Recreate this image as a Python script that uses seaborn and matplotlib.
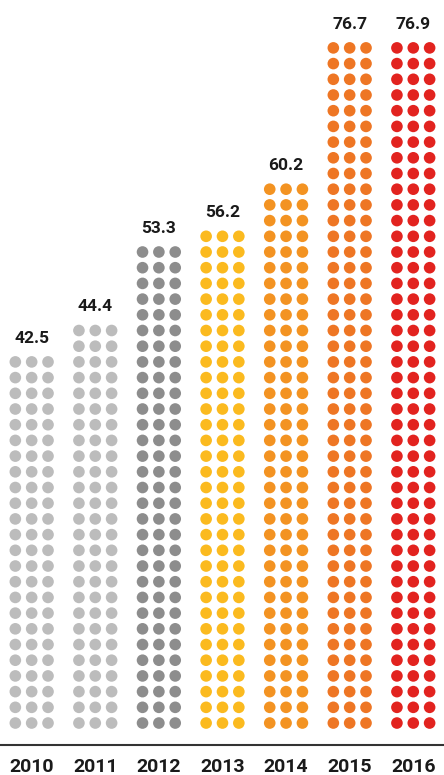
import pandas as pd
import seaborn as sns
import matplotlib
import matplotlib.pyplot as plt

matplotlib.use('Agg')

# values
years = ['2010', '2011', '2012', '2013', '2014', '2015', '2016']
values = [42.5, 44.4, 53.3, 56.2, 60.2, 76.7, 76.9]
# number of dot rows per column (3 dots per row)
dot_rows = [24, 26, 31, 32, 35, 44, 44]
colors = ['#bcbcbc', '#bcbcbc', '#8d8d8d', '#fbba1f', '#f39322', '#ee7624', '#e2231f']

# build one row per dot
records = []
for i, (yr, n) in enumerate(zip(years, dot_rows)):
    for r in range(n):
        for j in range(3):
            records.append({'year': yr, 'x': i + (j - 1) * 0.257, 'row': r})
dots = pd.DataFrame(records)

sns.set_style('white')
plt.rcParams['font.family'] = ['Roboto', 'DejaVu Sans']

fig = plt.figure(figsize=(4.44, 7.75), dpi=100)
ax = fig.add_axes([0, 0, 1, 1])

sns.scatterplot(data=dots, x='x', y='row', hue='year', palette=dict(zip(years, colors)),
                s=70, linewidth=0, legend=False, ax=ax)

# value labels over each column
for i, (v, n) in enumerate(zip(values, dot_rows)):
    ax.text(i, n - 1 + 1.5, f'{v:.1f}', ha='center', va='center',
            fontsize=12.5, fontweight='bold', color='#1a1a1a')

# baseline and year labels
ax.axhline(-1.4, color='#333333', linewidth=1.5)
for i, yr in enumerate(years):
    ax.text(i, -2.8, yr, ha='center', va='center',
            fontsize=14, fontweight='bold', color='#1a1a1a')

ax.set_xlim(-0.498, 6.483)
ax.set_ylim(-3.31, 46.05)
ax.axis('off')

fig.savefig('out.png', dpi=100)
plt.close(fig)
